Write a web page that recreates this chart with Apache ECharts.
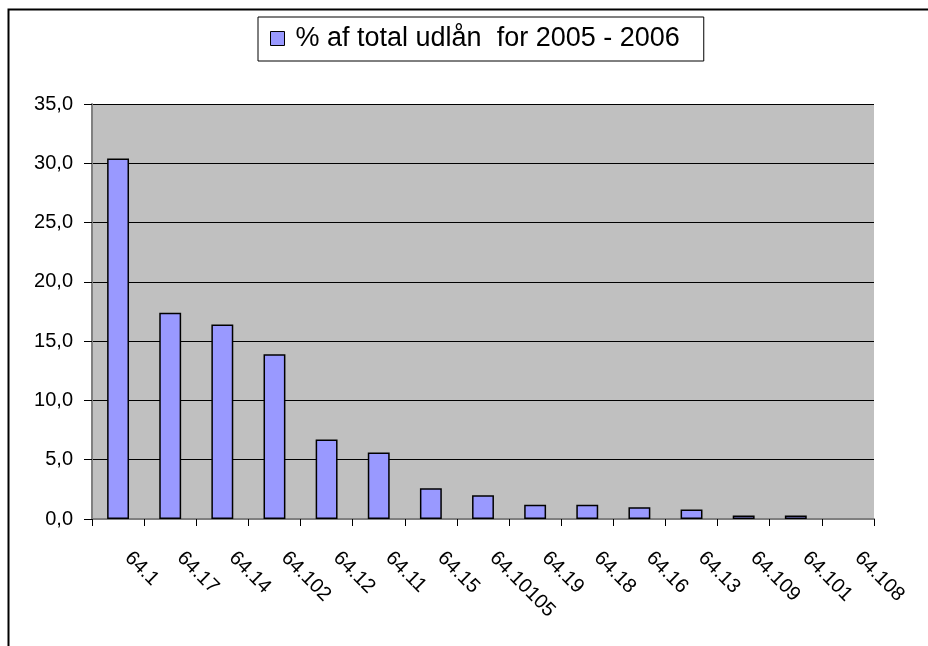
<!DOCTYPE html>
<html><head><meta charset="utf-8">
<script src="https://cdn.jsdelivr.net/npm/echarts@6/dist/echarts.min.js"></script>
<style>html,body{margin:0;padding:0;background:#fff}#c{width:928px;height:646px}</style>
</head><body><div id="c"></div>
<script>
const categories = ['64.1','64.17','64.14','64.102','64.12','64.11','64.15','64.10105','64.19','64.18','64.16','64.13','64.109','64.101','64.108'];
const values = [30.4, 17.4, 16.4, 13.9, 6.7, 5.6, 2.6, 2.0, 1.2, 1.2, 1.0, 0.8, 0.3, 0.3, 0.0];
const seriesName = '% af total udlån  for 2005 - 2006';
const yTicks = {min: 0, max: 35, interval: 5};

const chart = echarts.init(document.getElementById('c'), null, {renderer: 'canvas'});
const font = 'Liberation Sans, Arial, sans-serif';
chart.setOption({
  animation: false,
  backgroundColor: '#ffffff',
  graphic: [
    {type: 'polyline', shape: {points: [[8.5, 700], [8.5, 9.5], [940, 9.5]]}, style: {stroke: '#000', lineWidth: 2, fill: null}, z: 10}
  ],
  legend: {
    data: [seriesName],
    left: 258, top: 17,
    padding: [8, 24, 9, 12],
    borderColor: '#000', borderWidth: 1, backgroundColor: '#fff',
    itemWidth: 14, itemHeight: 14, itemGap: 0,
    icon: 'rect',
    itemStyle: {borderColor: '#000', borderWidth: 1},
    textStyle: {fontFamily: font, fontSize: 27, color: '#000', padding: [0, 0, 0, 6]}
  },
  grid: {left: 92, right: 54, top: 104, bottom: 127, show: true, backgroundColor: '#C0C0C0', borderWidth: 0},
  xAxis: {
    type: 'category', data: categories,
    axisLine: {lineStyle: {color: '#808080', width: 2}},
    axisTick: {show: true, length: 7, lineStyle: {color: '#000'}},
    axisLabel: {rotate: -45, margin: 26, fontFamily: font, fontSize: 20, color: '#000', interval: 0, padding: [0, 0, 0, 14]}
  },
  yAxis: {
    type: 'value', min: yTicks.min, max: yTicks.max, interval: yTicks.interval,
    axisLine: {show: true, lineStyle: {color: '#808080', width: 2}},
    axisTick: {show: true, length: 8, lineStyle: {color: '#000'}},
    splitLine: {lineStyle: {color: '#000', width: 1}},
    axisLabel: {margin: 19, fontFamily: font, fontSize: 20, color: '#000',
      formatter: v => v.toFixed(1).replace('.', ',')}
  },
  series: [{
    name: seriesName, type: 'bar',
    data: values.map(v => (v === 0 ? '-' : v)),
    barWidth: '42%',
    itemStyle: {color: '#9999FF', borderColor: '#000', borderWidth: 1.5}
  }]
});
</script></body></html>
